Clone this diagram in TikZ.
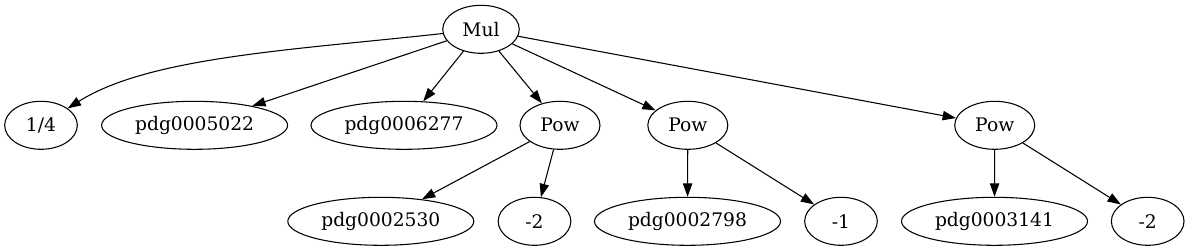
\documentclass[tikz,border=0pt]{standalone}
\usepackage{fontspec}
\setmainfont{DejaVu Serif}
\usetikzlibrary{shapes.geometric,arrows.meta}
\begin{document}
\begin{tikzpicture}[x=0.75pt,y=-0.75pt,
  gv/.style={ellipse,draw,line width=0.8pt,minimum height=36pt,inner sep=0pt,
    font=\fontsize{14pt}{16pt}\selectfont},
  wpdg/.style={gv,minimum width=139.5pt},
  wpow/.style={gv,minimum width=60pt},
  wmul/.style={gv,minimum width=57.4pt},
  wsm/.style={gv,minimum width=54.5pt},
  edge/.style={-{Triangle[length=10pt,width=7pt]},line width=0.8pt}]
\useasboundingbox (0,0) rectangle (1189,251);
\node[wmul] (mul) at (481,29.3) {Mul};
\node[wsm] (q) at (41,125.3) {1/4};
\node[wpdg] (p5022) at (194.6,125.3) {pdg0005022};
\node[wpdg] (p6277) at (404,125.3) {pdg0006277};
\node[wpow] (pow1) at (560,125.3) {Pow};
\node[wpow] (pow2) at (687.8,125.3) {Pow};
\node[wpow] (pow3) at (994.7,125.3) {Pow};
\node[wpdg] (p2530) at (380.8,221.3) {pdg0002530};
\node[wsm] (m2a) at (534.5,221.3) {-2};
\node[wpdg] (p2798) at (687.5,221.3) {pdg0002798};
\node[wsm] (m1) at (841,221.3) {-1};
\node[wpdg] (p3141) at (994.5,221.3) {pdg0003141};
\node[wsm] (m2b) at (1147.7,221.3) {-2};
\coordinate (c1) at (292.8,50);
\coordinate (c2) at (148.9,57);
\draw[edge] (mul) .. controls (c1) and (c2) .. (q);
\draw[edge] (mul) -- (p5022);
\draw[edge] (mul) -- (p6277);
\draw[edge] (mul) -- (pow1);
\draw[edge] (mul) -- (pow2);
\draw[edge] (mul) -- (pow3);
\draw[edge] (pow1) -- (p2530);
\draw[edge] (pow1) -- (m2a);
\draw[edge] (pow2) -- (p2798);
\draw[edge] (pow2) -- (m1);
\draw[edge] (pow3) -- (p3141);
\draw[edge] (pow3) -- (m2b);
\end{tikzpicture}
\end{document}
